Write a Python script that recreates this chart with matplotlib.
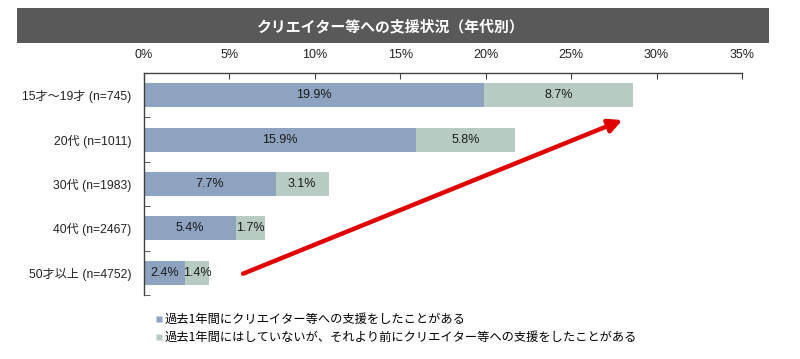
import matplotlib
matplotlib.use("Agg")
import matplotlib.pyplot as plt
from matplotlib.patches import Rectangle
from matplotlib.lines import Line2D

plt.rcParams['font.family'] = ['Liberation Sans', 'Noto Sans CJK JP', 'DejaVu Sans']

title = "クリエイター等への支援状況（年代別）"
categories = ["15才～19才 (n=745)", "20代 (n=1011)", "30代 (n=1983)", "40代 (n=2467)", "50才以上 (n=4752)"]
past_year = [19.9, 15.9, 7.7, 5.4, 2.4]
before = [8.7, 5.8, 3.1, 1.7, 1.4]
series_names = ["過去1年間にクリエイター等への支援をしたことがある",
                "過去1年間にはしていないが、それより前にクリエイター等への支援をしたことがある"]
xticks = [0, 5, 10, 15, 20, 25, 30, 35]
colors = ["#8DA3BF", "#B8CBC2"]

W, H = 800, 359
fig = plt.figure(figsize=(W / 100, H / 100), dpi=100)

# title banner
fig.patches.append(Rectangle((17 / W, 1 - 43 / H), (769 - 17) / W, 35 / H,
                             transform=fig.transFigure, facecolor="#595959", edgecolor="none"))
fig.text(391 / W, 1 - 26 / H, title, color="white", fontsize=10.7,
         fontweight="bold", ha="center", va="center",
         family=['Noto Sans CJK JP', 'DejaVu Sans'])

# axes: x 144..742, y 73..295
ax = fig.add_axes([144 / W, 1 - 295 / H, (742 - 144) / W, (295 - 73) / H])
n = len(categories)
ypos = list(range(n))
ax.barh(ypos, past_year, height=0.54, color=colors[0], label=series_names[0])
ax.barh(ypos, before, left=past_year, height=0.54, color=colors[1], label=series_names[1])

for i in range(n):
    ax.text(past_year[i] / 2, i, f"{past_year[i]:.1f}%", ha="center", va="center",
            fontsize=9, color="#1a1a1a")
    ax.text(past_year[i] + before[i] / 2, i, f"{before[i]:.1f}%", ha="center", va="center",
            fontsize=9, color="#1a1a1a")

ax.set_xlim(0, 35)
ax.set_ylim(n - 0.5, -0.5)
ax.xaxis.tick_top()
ax.set_xticks(xticks)
ax.set_xticklabels([f"{v}%" for v in xticks], fontsize=9, color="#222222")
ax.tick_params(axis="x", direction="in", length=4, pad=9, color="#404040")
ax.set_yticks(ypos)
ax.set_yticklabels(categories, fontsize=8.7, color="#222222")
ax.tick_params(axis="y", length=0, pad=9)
ax.set_yticks([i + 0.5 for i in range(-1, n)], minor=True)
ax.tick_params(axis="y", which="minor", direction="in", length=4, color="#404040")
for s in ["right", "bottom"]:
    ax.spines[s].set_visible(False)
for s in ["top", "left"]:
    ax.spines[s].set_color("#404040")
    ax.spines[s].set_linewidth(1.0)

# red arrow
ax.annotate("", xy=(28.0, 0.56), xytext=(5.8, 4.02),
            arrowprops=dict(arrowstyle="-|>,head_length=0.8,head_width=0.4",
                            color="#E00000", lw=3.2, shrinkA=0, shrinkB=0))

# legend
handles = [Line2D([], [], marker="s", linestyle="none", markersize=4.5,
                  markerfacecolor=c, markeredgecolor="none") for c in colors]
fig.legend(handles, series_names, loc="upper left", bbox_to_anchor=(155 / W, 1 - 313 / H),
           frameon=False, handlelength=0.6, handletextpad=0.2,
           labelspacing=0.4, borderpad=0, borderaxespad=0,
           prop={'family': ['Noto Sans CJK JP', 'DejaVu Sans'], 'size': 8.8})

fig.savefig("out.png", dpi=100)
